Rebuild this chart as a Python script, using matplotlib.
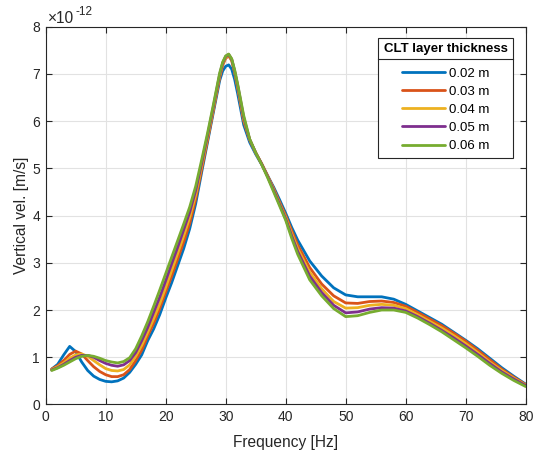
import matplotlib
matplotlib.use("Agg")
import matplotlib.pyplot as plt
from matplotlib.lines import Line2D

plt.rcParams['font.family'] = ['Liberation Sans', 'DejaVu Sans']

# frequency axis [Hz]
freq = [1, 2, 3, 4, 5, 6, 7, 8, 9, 10, 11, 12, 13, 14, 15, 16, 17, 18, 19, 20,
        21, 22, 23, 24, 25, 26, 27, 28, 29, 29.5, 30, 30.5, 31, 31.5, 32, 33, 34, 35, 36, 37,
        38, 39, 40, 41, 42, 44, 46, 48, 50, 52, 54, 56, 58, 60, 62, 64, 66, 68, 70, 72,
        74, 76, 78, 80]

# vertical velocity, units of 1e-12 m/s
v_002 = [0.75, 0.85, 1.05, 1.23, 1.12, 0.90, 0.72, 0.60, 0.53, 0.49, 0.48, 0.50, 0.56, 0.68, 0.85, 1.05, 1.35, 1.60, 1.90, 2.25,
         2.58, 2.94, 3.30, 3.72, 4.25, 4.92, 5.57, 6.22, 6.86, 7.06, 7.16, 7.19, 7.10, 6.88, 6.58, 5.92, 5.55, 5.30, 5.08, 4.84,
         4.60, 4.33, 4.05, 3.75, 3.48, 3.04, 2.72, 2.47, 2.32, 2.28, 2.28, 2.28, 2.23, 2.12, 1.98, 1.84, 1.70, 1.53, 1.36, 1.18,
         0.98, 0.78, 0.60, 0.43]
v_003 = [0.75, 0.82, 0.93, 1.06, 1.13, 1.07, 0.93, 0.80, 0.70, 0.63, 0.59, 0.59, 0.63, 0.74, 0.93, 1.15, 1.45, 1.72, 2.03, 2.38,
         2.72, 3.08, 3.44, 3.83, 4.35, 4.98, 5.61, 6.26, 6.92, 7.18, 7.33, 7.38, 7.28, 7.02, 6.70, 6.00, 5.60, 5.33, 5.10, 4.84,
         4.57, 4.28, 4.00, 3.68, 3.38, 2.90, 2.55, 2.30, 2.15, 2.14, 2.18, 2.19, 2.16, 2.08, 1.95, 1.81, 1.67, 1.51, 1.34, 1.15,
         0.95, 0.75, 0.58, 0.42]
v_004 = [0.74, 0.80, 0.88, 0.98, 1.05, 1.07, 1.02, 0.93, 0.84, 0.76, 0.72, 0.71, 0.74, 0.84, 1.02, 1.25, 1.53, 1.82, 2.13, 2.48,
         2.84, 3.20, 3.57, 3.96, 4.44, 5.05, 5.66, 6.30, 6.96, 7.21, 7.35, 7.40, 7.30, 7.04, 6.73, 6.04, 5.61, 5.33, 5.09, 4.83,
         4.55, 4.25, 3.96, 3.62, 3.30, 2.80, 2.45, 2.18, 2.04, 2.05, 2.10, 2.12, 2.10, 2.03, 1.90, 1.76, 1.62, 1.46, 1.29, 1.10,
         0.90, 0.72, 0.56, 0.41]
v_005 = [0.73, 0.78, 0.85, 0.93, 1.00, 1.04, 1.04, 1.00, 0.93, 0.87, 0.83, 0.81, 0.84, 0.93, 1.10, 1.35, 1.63, 1.95, 2.27, 2.62,
         2.98, 3.33, 3.70, 4.07, 4.53, 5.11, 5.71, 6.34, 6.99, 7.23, 7.37, 7.41, 7.31, 7.06, 6.76, 6.08, 5.61, 5.33, 5.09, 4.82,
         4.53, 4.23, 3.93, 3.57, 3.24, 2.72, 2.37, 2.10, 1.94, 1.96, 2.02, 2.05, 2.04, 1.98, 1.86, 1.72, 1.57, 1.41, 1.24, 1.06,
         0.87, 0.69, 0.54, 0.40]
v_006 = [0.72, 0.77, 0.83, 0.90, 0.97, 1.02, 1.04, 1.02, 0.98, 0.93, 0.90, 0.88, 0.91, 0.99, 1.18, 1.45, 1.75, 2.08, 2.42, 2.77,
         3.12, 3.47, 3.82, 4.18, 4.62, 5.18, 5.76, 6.38, 7.02, 7.25, 7.38, 7.42, 7.32, 7.08, 6.78, 6.12, 5.62, 5.33, 5.08, 4.80,
         4.50, 4.20, 3.90, 3.52, 3.18, 2.64, 2.30, 2.03, 1.86, 1.88, 1.95, 2.00, 2.00, 1.95, 1.83, 1.69, 1.54, 1.37, 1.20, 1.02,
         0.83, 0.66, 0.51, 0.38]

series = [v_002, v_003, v_004, v_005, v_006]
labels = ['0.02 m', '0.03 m', '0.04 m', '0.05 m', '0.06 m']
colors = ['#0072BD', '#D95319', '#EDB120', '#7E2F8E', '#77AC30']

axcol = '#262626'

fig = plt.figure(figsize=(5.33, 4.55), dpi=100)
ax = fig.add_axes([0.0857, 0.111, 0.9006, 0.8305])

for vals, lab, col in zip(series, labels, colors):
    ax.plot(freq, vals, color=col, lw=2.0, label=lab,
            solid_joinstyle='round', solid_capstyle='round')

ax.set_xlim(0, 80)
ax.set_ylim(0, 8)
ax.set_xticks(range(0, 81, 10))
ax.set_yticks(range(0, 9))
ax.grid(True, color='#e2e2e2', lw=0.8)
ax.set_axisbelow(True)
ax.tick_params(direction='in', top=True, right=True, length=4, width=0.8,
               colors=axcol, labelsize=10, pad=4)
for s in ax.spines.values():
    s.set_color(axcol)
    s.set_linewidth(0.8)

ax.set_xlabel('Frequency [Hz]', fontsize=11.2, color=axcol, labelpad=8)
ax.set_ylabel('Vertical vel. [m/s]', fontsize=11.2, color=axcol, labelpad=2)

# exponent label, MATLAB style
ax.text(0.004, 1.009, '\u00d710', transform=ax.transAxes,
        fontsize=11.2, color=axcol, ha='left', va='baseline')
ax.text(0.062, 1.030, '-12', transform=ax.transAxes,
        fontsize=8.5, color=axcol, ha='left', va='baseline')

leg = ax.legend(loc='upper right', bbox_to_anchor=(0.974, 0.970), borderaxespad=0,
                title='CLT layer thickness', fancybox=False, framealpha=1,
                edgecolor=axcol, fontsize=9.5, handlelength=3.3, handletextpad=0.3,
                labelspacing=0.45, borderpad=0.42)
leg.get_title().set_fontweight('bold')
leg.get_title().set_fontsize(9.5)
leg.get_frame().set_linewidth(0.8)
# more room between title and entries
leg._legend_box.sep = 8.5

# separator under legend title
fig.canvas.draw()
tb = leg.get_title().get_window_extent()
fb = leg.get_frame().get_window_extent()
inv = fig.transFigure.inverted()
y_sep = inv.transform((0, tb.y0 - 4))[1]
x0 = inv.transform((fb.x0, 0))[0]
x1 = inv.transform((fb.x1, 0))[0]
fig.add_artist(Line2D([x0, x1], [y_sep, y_sep], color=axcol, lw=0.8, zorder=10))

fig.savefig('out.png', dpi=100)
